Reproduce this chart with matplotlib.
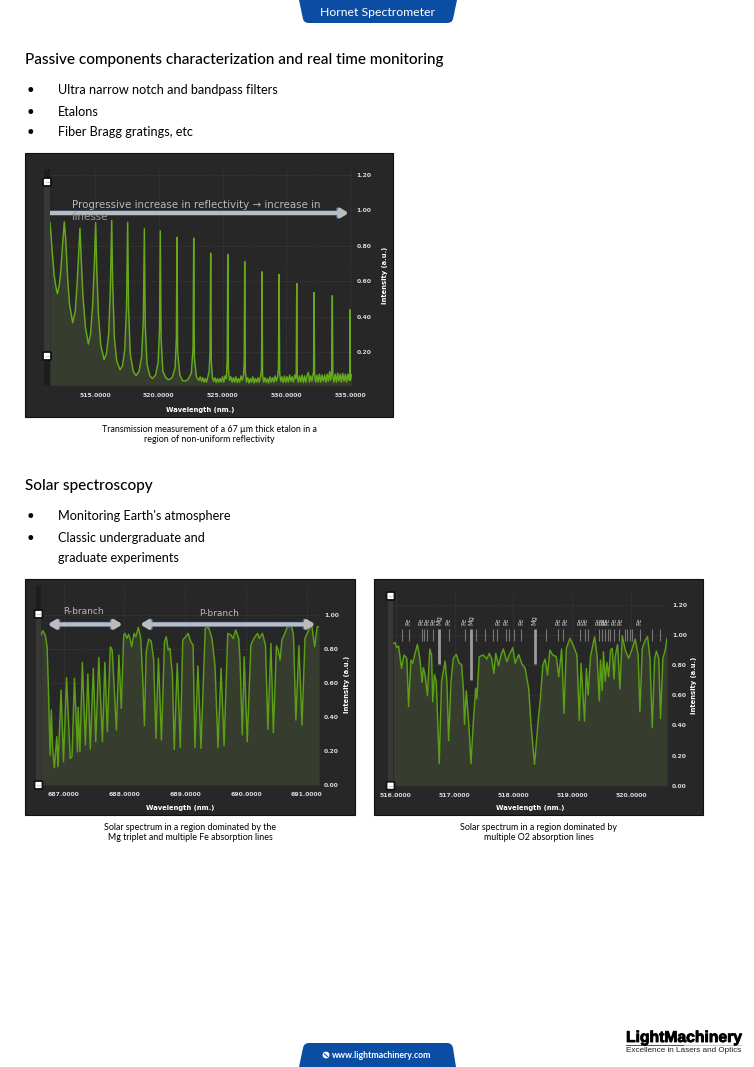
import matplotlib
matplotlib.use('Agg')
import matplotlib.pyplot as plt
import matplotlib.patheffects as pe
from matplotlib.patches import Rectangle, FancyArrowPatch, PathPatch, FancyBboxPatch, Circle
from matplotlib.path import Path

W, H = 754, 1067
BODY_FONT = ['Lato', 'DejaVu Sans']
TAB_BLUE = '#0a4da2'
PANEL = '#272727'
GRID = '#454545'

# etalon transmission
etalon_wl = [511.47, 511.55, 511.65, 511.8, 511.95, 512.05, 512.2, 512.32, 512.45, 512.59, 512.7, 512.85, 513.0,
             513.25, 513.45, 513.6, 513.72, 513.82, 513.92, 514.05, 514.25, 514.48, 514.65, 514.82, 514.95, 515.05,
             515.13, 515.27, 515.45, 515.71, 515.9, 516.07, 516.2, 516.31, 516.38, 516.52, 516.7, 516.96, 517.15,
             517.33, 517.47, 517.56, 517.63, 517.76, 518.0, 518.22, 518.45, 518.65, 518.79, 518.87, 518.94, 519.08,
             519.3, 519.5, 519.75, 519.95, 520.06, 520.12, 520.18, 520.32, 520.55, 520.75, 521.05, 521.28, 521.38,
             521.43, 521.48, 521.65, 521.85, 522.06, 522.3, 522.55, 522.69, 522.74, 522.79, 522.95, 523.15,
             523.25, 523.36, 523.45, 523.55, 523.65, 523.75, 523.85, 523.95, 524.02, 524.07,
             524.12, 524.2, 524.3, 524.4, 524.5, 524.6, 524.7, 524.8, 524.9, 525.0,
             525.1, 525.2, 525.3, 525.37, 525.41, 525.46, 525.55, 525.65, 525.75, 525.85,
             525.95, 526.05, 526.15, 526.25, 526.35, 526.45, 526.55, 526.65, 526.7, 526.74,
             526.79, 526.88, 526.98, 527.08, 527.18, 527.28, 527.38, 527.48, 527.58, 527.68,
             527.78, 527.88, 527.98, 528.06, 528.1, 528.14, 528.22, 528.32, 528.42, 528.52,
             528.62, 528.72, 528.82, 528.92, 529.02, 529.12, 529.22, 529.32, 529.39, 529.43,
             529.48, 529.56, 529.66, 529.76, 529.86, 529.96, 530.06, 530.16, 530.26, 530.36,
             530.46, 530.56, 530.66, 530.74, 530.78, 530.82, 530.86, 530.94, 531.04, 531.14,
             531.24, 531.34, 531.44, 531.54, 531.64, 531.73, 531.82, 531.92, 532.02, 532.14,
             532.18, 532.22, 532.3, 532.4, 532.5, 532.6, 532.7, 532.8, 532.9, 533.0,
             533.1, 533.2, 533.3, 533.4, 533.48, 533.56, 533.61, 533.65, 533.73, 533.83,
             533.93, 534.03, 534.13, 534.23, 534.33, 534.43, 534.53, 534.63, 534.73, 534.83,
             534.93, 534.97, 535.0, 535.03, 535.1]
etalon_i = [.93, .86, .76, .63, .56, .53, .58, .66, .80, .935, .84, .62, .47,
            .365, .43, .59, .76, .90, .72, .52, .34, .245, .30, .47, .70, .93,
            .68, .41, .24, .157, .19, .30, .55, .943, .60, .28, .15, .10, .12,
            .21, .45, .933, .45, .19, .09, .067, .09, .17, .38, .897, .35, .13,
            .065, .05, .07, .14, .33, .884, .28, .09, .055, .043, .055, .11, .28,
            .848, .20, .07, .04, .035, .045, .08, .22, .843, .17, .06, .04,
            .06, .035, .055, .03, .05, .03, .06, .09, .2, .758,
            .15, .06, .035, .055, .028, .05, .03, .05, .03, .06,
            .03, .065, .05, .17, .751, .10, .04, .06, .03, .055,
            .03, .06, .028, .05, .03, .065, .04, .07, .14, .711,
            .09, .03, .055, .025, .05, .03, .06, .025, .05, .03,
            .055, .03, .06, .10, .653, .07, .03, .055, .028, .05,
            .025, .06, .03, .055, .03, .065, .035, .06, .11, .638,
            .08, .035, .06, .028, .065, .03, .06, .03, .07, .035,
            .06, .03, .07, .05, .08, .587, .06, .03, .065, .03,
            .07, .028, .065, .03, .07, .085, .03, .065, .035, .09,
            .536, .07, .03, .07, .03, .075, .03, .07, .035, .07,
            .03, .075, .035, .09, .04, .09, .518, .06, .03, .075,
            .03, .08, .035, .075, .03, .08, .035, .075, .03, .075,
            .04, .08, .439, .04, .07]
etalon_xticks = [515, 520, 525, 530, 535]
etalon_yticks = [0.2, 0.4, 0.6, 0.8, 1.0, 1.2]

# O2 band
o2_wl = [686.63, 686.66, 686.70, 686.73, 686.75, 686.78, 686.80, 686.82, 686.85, 686.87, 686.89, 686.91, 686.96,
         687.00, 687.05, 687.11, 687.14, 687.18, 687.23, 687.24, 687.27, 687.31, 687.36, 687.40, 687.44, 687.49,
         687.53, 687.58, 687.64, 687.68, 687.72, 687.77, 687.80, 687.87, 687.91, 687.95, 687.99, 688.01, 688.04,
         688.07, 688.10, 688.12, 688.16, 688.19, 688.23, 688.27, 688.30, 688.33, 688.36, 688.40, 688.44, 688.48,
         688.52, 688.56, 688.61, 688.66, 688.69, 688.72, 688.75, 688.79, 688.82, 688.87, 688.92, 688.96, 689.00,
         689.05, 689.09, 689.13, 689.16, 689.21, 689.26, 689.33, 689.38, 689.44, 689.49, 689.54, 689.59, 689.64,
         689.70, 689.75, 689.79, 689.83, 689.88, 689.90, 689.94, 689.97, 690.02, 690.08, 690.13, 690.19, 690.22,
         690.27, 690.32, 690.36, 690.41, 690.45, 690.50, 690.53, 690.56, 690.59, 690.64, 690.68, 690.75, 690.78,
         690.82, 690.87, 690.92, 690.97, 691.03, 691.08, 691.13, 691.17, 691.20]
o2_i = [.884, .91, .884, .815, .59, .177, .442, .216, .102, .196, .285, .108, .56,
        .138, .633, .157, .167, .629, .196, .458, .196, .723, .236, .656, .212, .688,
        .255, .752, .255, .723, .314, .815, .796, .324, .766, .452, .884, .894, .864,
        .888, .855, .815, .894, .874, .929, .864, .648, .35, .786, .86, .849, .747,
        .275, .747, .265, .845, .874, .796, .806, .648, .21, .717, .222, .855, .87,
        .894, .845, .825, .222, .703, .216, .923, .933, .864, .707, .22, .688, .232,
        .894, .884, .864, .914, .864, .747, .295, .756, .255, .825, .864, .894, .864,
        .894, .825, .328, .835, .308, .821, .796, .737, .855, .894, .933, .933, .884,
        .383, .821, .354, .864, .914, .943, .815, .933, .933]
o2_xticks = [687, 688, 689, 690, 691]
o2_yticks = [0.0, 0.2, 0.4, 0.6, 0.8, 1.0]

# solar spectrum
solar_wl = [515.96, 515.99, 516.02, 516.05, 516.10, 516.14, 516.19, 516.22, 516.26, 516.29, 516.33, 516.37, 516.41,
            516.45, 516.47, 516.50, 516.54, 516.58, 516.61, 516.63, 516.66, 516.69, 516.74, 516.78, 516.84, 516.87,
            516.90, 516.94, 516.98, 517.03, 517.08, 517.12, 517.15, 517.17, 517.20, 517.24, 517.28, 517.32, 517.36,
            517.38, 517.42, 517.49, 517.55, 517.59, 517.63, 517.67, 517.70, 517.75, 517.79, 517.83, 517.89, 517.93,
            517.99, 518.03, 518.09, 518.14, 518.20, 518.26, 518.30, 518.36, 518.42, 518.46, 518.50, 518.54, 518.58,
            518.62, 518.67, 518.73, 518.77, 518.82, 518.86, 518.90, 518.96, 519.02, 519.08, 519.12, 519.15, 519.21,
            519.24, 519.27, 519.31, 519.38, 519.42, 519.46, 519.48, 519.51, 519.53, 519.56, 519.59, 519.62, 519.65,
            519.68, 519.71, 519.73, 519.77, 519.81, 519.85, 519.90, 519.96, 520.02, 520.07, 520.12, 520.15, 520.19,
            520.24, 520.28, 520.32, 520.36, 520.40, 520.43, 520.47, 520.50, 520.54, 520.58, 520.61]
solar_i = [.945, .95, .917, .928, .779, .868, .846, .525, .835, .813, .879, .939, .846,
           .686, .784, .735, .598, .908, .868, .558, .739, .691, .146, .691, .828, .691,
           .299, .691, .846, .872, .813, .806, .646, .407, .631, .425, .146, .425, .646,
           .576, .857, .868, .841, .879, .846, .746, .879, .797, .868, .908, .824, .868,
           .917, .813, .872, .813, .779, .646, .403, .142, .425, .58, .801, .841, .735,
           .901, .868, .857, .724, .908, .48, .912, .979, .93, .868, .432, .813, .429,
           .779, .602, .857, .99, .868, .562, .835, .631, .89, .695, .819, .724, .901,
           .912, .708, .857, .939, .642, .996, .901, .846, .912, .974, .868, .491, .912,
           .967, .99, .846, .385, .846, .894, .846, .447, .846, .901, .979]
solar_xticks = [516, 517, 518, 519, 520]
solar_yticks = [0.0, 0.2, 0.4, 0.6, 0.8, 1.0, 1.2]
line_marks = [516.10, 516.22, 516.44, 516.49, 516.54, 516.64, 516.90, 517.17, 517.37, 517.51, 517.65, 517.73, 517.88,
              517.92, 518.01, 518.13, 518.56, 518.76, 518.85, 519.13, 519.21, 519.26, 519.45, 519.51, 519.55, 519.60,
              519.65, 519.71, 519.79, 519.89, 519.93, 519.98, 520.02, 520.15, 520.36, 520.49]
fe_labels = [516.22, 516.44, 516.54, 516.64, 516.90, 517.17, 517.75, 517.88, 518.14, 518.77, 518.88, 519.13, 519.23,
             519.45, 519.51, 519.55, 519.60, 519.71, 519.82, 520.14]
mg_wl = [516.74, 517.28, 518.36]
mg_bottom = [0.81, 0.70, 0.81]

fig = plt.figure(figsize=(W / 100, H / 100), dpi=100, facecolor='white')


def px_axes(left, top, right, bottom, zorder=1):
    return fig.add_axes([left / W, 1 - bottom / H, (right - left) / W, (bottom - top) / H], zorder=zorder)


bg = px_axes(0, 0, W, H, zorder=0)
top = px_axes(0, 0, W, H, zorder=5)
for a in (bg, top):
    a.set_xlim(0, W)
    a.set_ylim(H, 0)
    a.axis('off')
top.patch.set_alpha(0)


def body(x, y, s, size=9.1, **kw):
    top.text(x, y + 1, s, fontsize=size, family=BODY_FONT, va='center', color=kw.pop('color', '#000000'), **kw)


def tab(points, radius_at):
    # rounded trapezium, corners given as control points
    verts, codes = [], []
    for i, p in enumerate(points):
        verts.append(p)
        codes.append(Path.MOVETO if i == 0 else (Path.CURVE3 if i in radius_at else Path.LINETO))
    verts.append(points[0])
    codes.append(Path.CLOSEPOLY)
    top.add_patch(PathPatch(Path(verts, codes), fc=TAB_BLUE, ec='none'))


def slider(x0, x1, y0, y1, h0, h1):
    bg.add_patch(Rectangle((x0, y0), x1 - x0, y1 - y0, fc='#1d1d1d', ec='none'))
    bg.add_patch(Rectangle((x0, h0), x1 - x0, h1 - h0, fc='#383838', ec='none'))
    cx = (x0 + x1) / 2
    for h in (h0, h1):
        top.add_patch(FancyBboxPatch((cx - 3, h - 3), 6, 6, boxstyle='round,pad=1', fc='white', ec='#111111', lw=1.3))
        top.plot([cx - 1.5, cx + 1.5], [h, h], color='#cfcfcf', lw=0.8)


def chart(panel, box, xlim, ylim, xs, ys, xticks, yticks, xlabel_at, ylabel_at, color):
    bg.add_patch(Rectangle((panel[0], panel[1]), panel[2] - panel[0], panel[3] - panel[1],
                           fc=PANEL, ec='#101010', lw=0.8))
    ax = px_axes(*box)
    ax.set_facecolor(PANEL)
    ax.set_xlim(*xlim)
    ax.set_ylim(*ylim)
    ax.fill_between(xs, ys, ylim[0], color='#373d2e', lw=0)
    ax.plot(xs, ys, color=color, lw=1.05, solid_joinstyle='round')
    ax.set_xticks(xticks)
    ax.set_xticklabels(['%.4f' % v for v in xticks])
    ax.set_yticks(yticks)
    ax.set_yticklabels(['%.2f' % v for v in yticks])
    ax.yaxis.tick_right()
    ax.tick_params(length=0, labelsize=4.4, labelcolor='#d8d8d8')
    ax.tick_params(axis='x', pad=5.2)
    ax.tick_params(axis='y', pad=3.6)
    for lab in ax.get_xticklabels() + ax.get_yticklabels():
        lab.set_fontweight('bold')
    ax.grid(True, color=GRID, ls=':', lw=0.6)
    ax.set_axisbelow(True)
    for s in ax.spines.values():
        s.set_visible(False)
    top.text(xlabel_at[0], xlabel_at[1], 'Wavelength (nm.)', fontsize=4.9, fontweight='bold', color='white',
             ha='center', va='center')
    top.text(ylabel_at[0], ylabel_at[1], 'Intensity (a.u.)', fontsize=4.9, fontweight='bold', color='white',
             rotation=90, ha='center', va='center')
    return ax


def span_arrow(ax, x0, x1, y, both):
    style = '<|-|>,head_length=4,head_width=2.4' if both else '-|>,head_length=4,head_width=2.4'
    for col, lw in (('#46689c', 3.6), ('#bcbcbc', 2.9)):
        ax.add_patch(FancyArrowPatch((x0, y), (x1, y), arrowstyle=style, mutation_scale=1, color=col, lw=lw,
                                     shrinkA=0, shrinkB=0, zorder=6))


# header / footer
tab([(299, 0), (303, 19), (304, 23), (309, 23), (447, 23), (452, 23), (453, 19), (457, 0)], [2, 3, 5, 6])
body(378, 11, 'Hornet Spectrometer', size=8.8, color='white', ha='center')
tab([(299, 1067), (303, 1048), (304, 1043), (309, 1043), (447, 1043), (452, 1043), (453, 1048), (456, 1067)], [2, 3, 5, 6])
top.add_patch(Circle((326, 1055), 3.4, fc='white', ec='none'))
top.plot([324.5, 327.5], [1054, 1056.5], color=TAB_BLUE, lw=0.8)
body(332, 1054, 'www.lightmachinery.com', size=6.3, color='white', fontweight='bold')

# text blocks
body(25, 59, 'Passive components characterization and real time monitoring', size=10.95, fontweight='medium')
for y, s in zip([90, 111, 131], ['Ultra narrow notch and bandpass filters', 'Etalons', 'Fiber Bragg gratings, etc']):
    body(27, y - 0.5, '•', size=9.4)
    body(58, y - 0.5, s)
body(25, 485, 'Solar spectroscopy', size=10.95, fontweight='medium')
for y, s in zip([516, 537], ["Monitoring Earth's atmosphere", 'Classic undergraduate and']):
    body(27, y - 0.5, '•', size=9.4)
    body(58, y - 0.5, s)
body(58, 556.5, 'graduate experiments')

for cx, y0, a, b in [(209, 428, 'Transmission measurement of a 67 µm thick etalon in a', 'region of non-uniform reflectivity'),
                     (190, 827, 'Solar spectrum in a region dominated by the', 'Mg triplet and multiple Fe absorption lines'),
                     (539, 827, 'Solar spectrum in a region dominated by', 'multiple O2 absorption lines')]:
    body(cx, y0, a, size=6.4, ha='center')
    body(cx, y0 + 10, b, size=6.4, ha='center')

# etalon chart
ax1 = chart((25, 153, 393, 417), (50, 170, 351.7, 385.3), (511.47, 535.13), (0.012, 1.228), etalon_wl, etalon_i,
            etalon_xticks, etalon_yticks, (200, 410), (385, 275), '#66aa1c')
slider(44, 50, 169, 385, 182, 356)
span_arrow(ax1, 511.45, 534.9, 0.985, False)
top.text(72, 204.5, 'Progressive increase in reflectivity → increase in', fontsize=7.36, color='#b8b8b8', va='center')
top.text(72, 217, 'finesse', fontsize=7.36, color='#9a9a9a', va='center')

# O2 chart
ax2 = chart((25, 579, 355, 815), (41, 585, 319, 785), (686.63, 691.2), (0.0, 1.179), o2_wl, o2_i,
            o2_xticks, o2_yticks, (180, 807.7), (347, 684), '#5c9e16')
slider(36, 41, 585, 785, 614, 785)
span_arrow(ax2, 686.74, 687.97, 0.947, True)
span_arrow(ax2, 688.26, 691.14, 0.947, True)
ax2.text(687.33, 1.02, 'R-branch', fontsize=6.5, color='#b8b8b8', ha='center', va='center', zorder=7)
ax2.text(689.56, 1.012, 'P-branch', fontsize=6.5, color='#b8b8b8', ha='center', va='center', zorder=7)

# solar chart
ax3 = chart((374, 579, 703, 815), (393.3, 593, 667, 785.7), (515.96, 520.61), (0.0, 1.28), solar_wl, solar_i,
            solar_xticks, solar_yticks, (530, 807.7), (694, 685), '#5c9e16')
slider(388, 393, 593, 785.7, 596, 785.7)
ax3.vlines(line_marks, 0.96, 1.04, color='#777777', lw=0.8, zorder=4)
ax3.vlines(mg_wl, mg_bottom, 1.04, color='#9c9c9c', lw=2.0, zorder=4)
for v in fe_labels:
    ax3.text(v, 1.07, 'Fe', rotation=90, fontsize=4.8, color='#c8c8c8', ha='center', va='bottom', zorder=5)
for v in mg_wl:
    ax3.text(v, 1.07, 'Mg', rotation=90, fontsize=4.8, color='#c8c8c8', ha='center', va='bottom', zorder=5)

# logo
logo = top.text(626, 1037.5, 'LightMachinery', fontsize=11.3, fontweight='bold', color='black', va='center', ha='left',
                family=['Liberation Sans'])
logo.set_path_effects([pe.withStroke(linewidth=0.6, foreground='black')])
top.add_patch(Rectangle((626, 1044.5), 58, 1.4, fc='#d81e1e', ec='none'))
top.add_patch(Rectangle((684, 1044.5), 58, 1.4, fc='#f2d21a', ec='none'))
top.text(626, 1050, 'Excellence in Lasers and Optics', fontsize=5.9, color='#222222', va='center',
         family=['Liberation Sans'])

fig.savefig('out.png', dpi=100)
